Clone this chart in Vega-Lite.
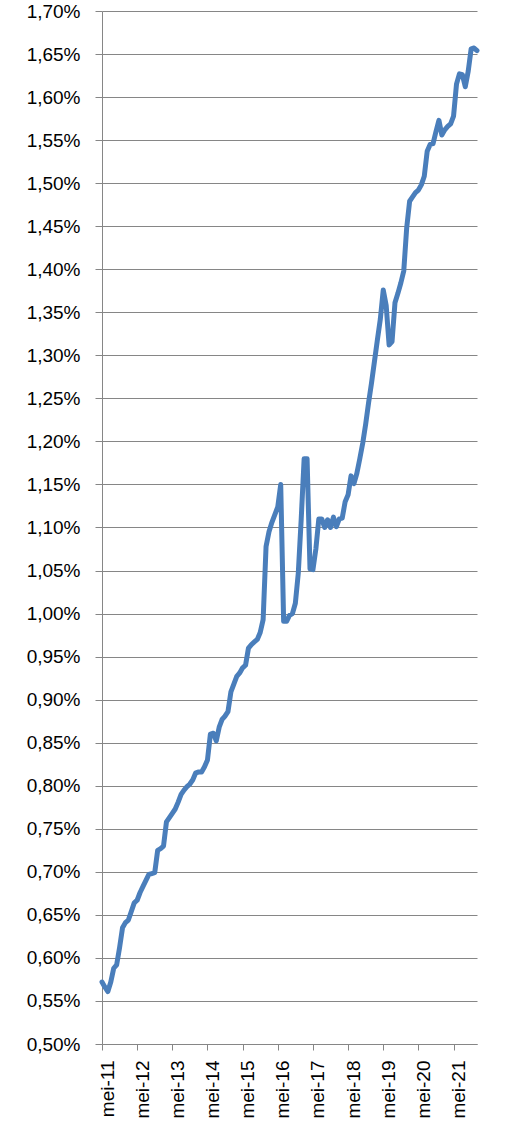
{
  "$schema": "https://vega.github.io/schema/vega-lite/v6.json",
  "autosize": {"type": "none"},
  "width": 375,
  "height": 1033,
  "padding": {"left": 102, "top": 11, "right": 29, "bottom": 85},
  "background": "white",
  "data": {"values": [
    {"maand": "2011-05", "waarde": 0.572},
    {"maand": "2011-06", "waarde": 0.566},
    {"maand": "2011-07", "waarde": 0.561},
    {"maand": "2011-08", "waarde": 0.572},
    {"maand": "2011-09", "waarde": 0.588},
    {"maand": "2011-10", "waarde": 0.592},
    {"maand": "2011-11", "waarde": 0.612},
    {"maand": "2011-12", "waarde": 0.635},
    {"maand": "2012-01", "waarde": 0.641},
    {"maand": "2012-02", "waarde": 0.644},
    {"maand": "2012-03", "waarde": 0.654},
    {"maand": "2012-04", "waarde": 0.664},
    {"maand": "2012-05", "waarde": 0.667},
    {"maand": "2012-06", "waarde": 0.676},
    {"maand": "2012-07", "waarde": 0.683},
    {"maand": "2012-08", "waarde": 0.690},
    {"maand": "2012-09", "waarde": 0.697},
    {"maand": "2012-10", "waarde": 0.698},
    {"maand": "2012-11", "waarde": 0.699},
    {"maand": "2012-12", "waarde": 0.725},
    {"maand": "2013-01", "waarde": 0.727},
    {"maand": "2013-02", "waarde": 0.730},
    {"maand": "2013-03", "waarde": 0.758},
    {"maand": "2013-04", "waarde": 0.763},
    {"maand": "2013-05", "waarde": 0.768},
    {"maand": "2013-06", "waarde": 0.773},
    {"maand": "2013-07", "waarde": 0.781},
    {"maand": "2013-08", "waarde": 0.790},
    {"maand": "2013-09", "waarde": 0.795},
    {"maand": "2013-10", "waarde": 0.799},
    {"maand": "2013-11", "waarde": 0.802},
    {"maand": "2013-12", "waarde": 0.807},
    {"maand": "2014-01", "waarde": 0.815},
    {"maand": "2014-02", "waarde": 0.816},
    {"maand": "2014-03", "waarde": 0.816},
    {"maand": "2014-04", "waarde": 0.822},
    {"maand": "2014-05", "waarde": 0.830},
    {"maand": "2014-06", "waarde": 0.860},
    {"maand": "2014-07", "waarde": 0.861},
    {"maand": "2014-08", "waarde": 0.852},
    {"maand": "2014-09", "waarde": 0.868},
    {"maand": "2014-10", "waarde": 0.877},
    {"maand": "2014-11", "waarde": 0.881},
    {"maand": "2014-12", "waarde": 0.886},
    {"maand": "2015-01", "waarde": 0.909},
    {"maand": "2015-02", "waarde": 0.918},
    {"maand": "2015-03", "waarde": 0.927},
    {"maand": "2015-04", "waarde": 0.931},
    {"maand": "2015-05", "waarde": 0.937},
    {"maand": "2015-06", "waarde": 0.940},
    {"maand": "2015-07", "waarde": 0.960},
    {"maand": "2015-08", "waarde": 0.964},
    {"maand": "2015-09", "waarde": 0.967},
    {"maand": "2015-10", "waarde": 0.970},
    {"maand": "2015-11", "waarde": 0.978},
    {"maand": "2015-12", "waarde": 0.993},
    {"maand": "2016-01", "waarde": 1.078},
    {"maand": "2016-02", "waarde": 1.095},
    {"maand": "2016-03", "waarde": 1.106},
    {"maand": "2016-04", "waarde": 1.115},
    {"maand": "2016-05", "waarde": 1.124},
    {"maand": "2016-06", "waarde": 1.150},
    {"maand": "2016-07", "waarde": 0.991},
    {"maand": "2016-08", "waarde": 0.991},
    {"maand": "2016-09", "waarde": 0.998},
    {"maand": "2016-10", "waarde": 1.000},
    {"maand": "2016-11", "waarde": 1.012},
    {"maand": "2016-12", "waarde": 1.047},
    {"maand": "2017-01", "waarde": 1.110},
    {"maand": "2017-02", "waarde": 1.180},
    {"maand": "2017-03", "waarde": 1.180},
    {"maand": "2017-04", "waarde": 1.052},
    {"maand": "2017-05", "waarde": 1.051},
    {"maand": "2017-06", "waarde": 1.075},
    {"maand": "2017-07", "waarde": 1.110},
    {"maand": "2017-08", "waarde": 1.110},
    {"maand": "2017-09", "waarde": 1.100},
    {"maand": "2017-10", "waarde": 1.109},
    {"maand": "2017-11", "waarde": 1.100},
    {"maand": "2017-12", "waarde": 1.112},
    {"maand": "2018-01", "waarde": 1.101},
    {"maand": "2018-02", "waarde": 1.110},
    {"maand": "2018-03", "waarde": 1.111},
    {"maand": "2018-04", "waarde": 1.130},
    {"maand": "2018-05", "waarde": 1.138},
    {"maand": "2018-06", "waarde": 1.160},
    {"maand": "2018-07", "waarde": 1.151},
    {"maand": "2018-08", "waarde": 1.163},
    {"maand": "2018-09", "waarde": 1.180},
    {"maand": "2018-10", "waarde": 1.198},
    {"maand": "2018-11", "waarde": 1.220},
    {"maand": "2018-12", "waarde": 1.245},
    {"maand": "2019-01", "waarde": 1.268},
    {"maand": "2019-02", "waarde": 1.293},
    {"maand": "2019-03", "waarde": 1.318},
    {"maand": "2019-04", "waarde": 1.342},
    {"maand": "2019-05", "waarde": 1.376},
    {"maand": "2019-06", "waarde": 1.358},
    {"maand": "2019-07", "waarde": 1.312},
    {"maand": "2019-08", "waarde": 1.316},
    {"maand": "2019-09", "waarde": 1.361},
    {"maand": "2019-10", "waarde": 1.372},
    {"maand": "2019-11", "waarde": 1.384},
    {"maand": "2019-12", "waarde": 1.398},
    {"maand": "2020-01", "waarde": 1.448},
    {"maand": "2020-02", "waarde": 1.479},
    {"maand": "2020-03", "waarde": 1.484},
    {"maand": "2020-04", "waarde": 1.489},
    {"maand": "2020-05", "waarde": 1.492},
    {"maand": "2020-06", "waarde": 1.498},
    {"maand": "2020-07", "waarde": 1.508},
    {"maand": "2020-08", "waarde": 1.537},
    {"maand": "2020-09", "waarde": 1.545},
    {"maand": "2020-10", "waarde": 1.546},
    {"maand": "2020-11", "waarde": 1.560},
    {"maand": "2020-12", "waarde": 1.573},
    {"maand": "2021-01", "waarde": 1.556},
    {"maand": "2021-02", "waarde": 1.562},
    {"maand": "2021-03", "waarde": 1.566},
    {"maand": "2021-04", "waarde": 1.569},
    {"maand": "2021-05", "waarde": 1.578},
    {"maand": "2021-06", "waarde": 1.615},
    {"maand": "2021-07", "waarde": 1.627},
    {"maand": "2021-08", "waarde": 1.626},
    {"maand": "2021-09", "waarde": 1.612},
    {"maand": "2021-10", "waarde": 1.630},
    {"maand": "2021-11", "waarde": 1.656},
    {"maand": "2021-12", "waarde": 1.657},
    {"maand": "2022-01", "waarde": 1.654}
  ]},
  "mark": {"type": "line", "color": "#4a7ebb", "strokeWidth": 5, "strokeJoin": "round", "strokeCap": "round", "clip": false},
  "encoding": {
    "x": {
      "field": "maand",
      "type": "ordinal",
      "sort": null,
      "scale": {"type": "point", "padding": 0},
      "axis": {
        "title": null,
        "values": ["2011-05", "2012-05", "2013-05", "2014-05", "2015-05", "2016-05", "2017-05", "2018-05", "2019-05", "2020-05", "2021-05"],
        "labelExpr": "'mei-' + substring(datum.value, 2, 4)",
        "labelAngle": -90,
        "labelAlign": "right",
        "labelBaseline": "middle",
        "labelPadding": 10,
        "labelOffset": 5,
        "tickSize": 6,
        "grid": false,
        "domainColor": "#868686",
        "tickColor": "#868686",
        "domainWidth": 1,
        "tickWidth": 1
      }
    },
    "y": {
      "field": "waarde",
      "type": "quantitative",
      "scale": {"domain": [0.5, 1.7], "nice": false, "zero": false},
      "axis": {
        "title": null,
        "values": [0.5, 0.55, 0.6, 0.65, 0.7, 0.75, 0.8, 0.85, 0.9, 0.95, 1.0, 1.05, 1.1, 1.15, 1.2, 1.25, 1.3, 1.35, 1.4, 1.45, 1.5, 1.55, 1.6, 1.65, 1.7],
        "labelExpr": "replace(format(datum.value, '.2f'), '.', ',') + '%'",
        "tickSize": 7,
        "labelPadding": 15,
        "grid": true,
        "gridColor": "#868686",
        "gridWidth": 1,
        "gridOpacity": 1,
        "domainColor": "#868686",
        "tickColor": "#868686",
        "domainWidth": 1,
        "tickWidth": 1
      }
    }
  },
  "config": {
    "view": {"stroke": null},
    "axis": {
      "labelFont": "Liberation Sans",
      "labelFontSize": 19,
      "labelColor": "#000000",
      "labelOverlap": false,
      "labelBound": false,
      "labelFlush": false
    }
  }
}
